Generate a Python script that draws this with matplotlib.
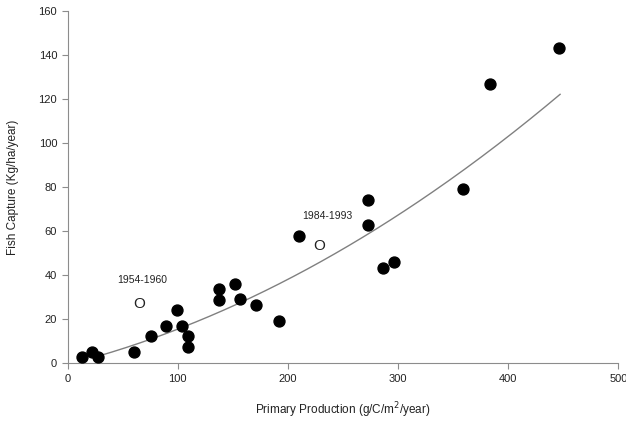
import numpy as np
import matplotlib.pyplot as plt

plt.rcParams['font.family'] = ['Liberation Sans', 'DejaVu Sans']

# filled points (primary production vs fish capture)
prod = [12.7, 22.3, 27.2, 60.5, 75.4, 89.6, 99.5, 104.1, 109, 109,
        137.4, 137.4, 152.2, 156.8, 171.3, 192.2, 210, 272.5, 272.5,
        286.6, 296.6, 358.8, 383, 445.6]
catch = [3.0, 5.3, 3.0, 5.3, 12.5, 17.0, 24.2, 17.0, 12.5, 7.5,
         33.5, 28.7, 35.9, 29.0, 26.4, 19.3, 57.8, 74.1, 62.7,
         43.3, 45.8, 78.9, 126.5, 142.9]

# open points (historical periods)
hist_prod = [65, 228.3]
hist_catch = [26.7, 53.3]
hist_labels = ['1954-1960', '1984-1993']

# trend line
trend_x = [27.6, 84, 129.4, 179.2, 247.5, 295.7, 338.1, 370, 410.8, 447]
trend_y = [3.0, 13.6, 20.4, 33.5, 49.1, 67.2, 80.8, 91.4, 107.3, 121.6]

grey = '#8c8c8c'

fig = plt.figure(figsize=(6.26, 4.21), dpi=100)
ax = fig.add_axes([0.108, 0.137, 0.88, 0.838])

# smooth the read trend points
coef = np.polyfit(trend_x, trend_y, 2)
xs = np.linspace(trend_x[0], trend_x[-1], 200)
ax.plot(xs, np.polyval(coef, xs), color='#808080', lw=1.0)

ax.scatter(prod, catch, s=62, color='black', zorder=3)
for x, y in zip(hist_prod, hist_catch):
    ax.text(x, y, 'O', fontsize=11, ha='center', va='center', color='#222222',
            zorder=3)
ax.text(68, 37.6, hist_labels[0], fontsize=7.5, ha='center', va='center',
        color='#222222')
ax.text(236, 66.7, hist_labels[1], fontsize=7.5, ha='center', va='center',
        color='#222222')

ax.set_xlim(0, 500)
ax.set_ylim(0, 160)
ax.set_xticks(range(0, 501, 100))
ax.set_yticks(range(0, 161, 20))
for s in ['top', 'right']:
    ax.spines[s].set_visible(False)
for s in ['left', 'bottom']:
    ax.spines[s].set_color(grey)
ax.tick_params(colors=grey, labelcolor='#222222', labelsize=8, length=4)
ax.set_xlabel('Primary Production (g/C/m$^2$/year)', fontsize=8.5,
              color='#222222', labelpad=12)
ax.set_ylabel('Fish Capture (Kg/ha/year)', fontsize=8.5, color='#222222',
              labelpad=14)

fig.savefig('out.png')
